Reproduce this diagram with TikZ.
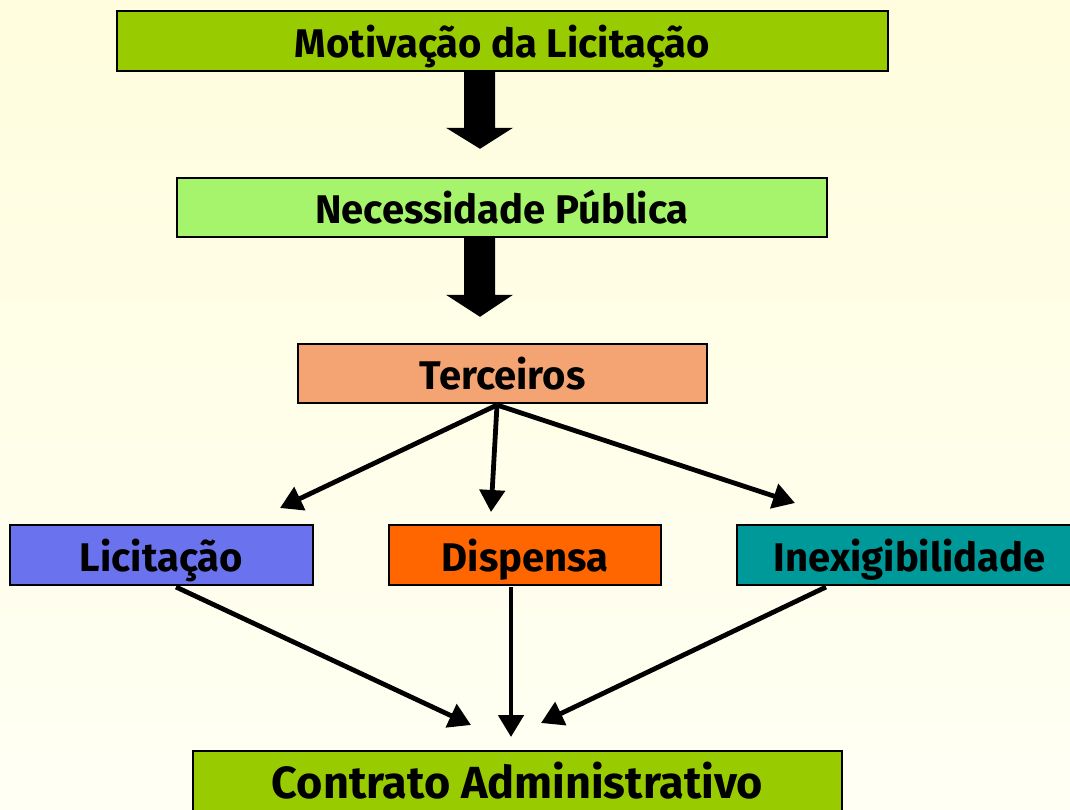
\documentclass[tikz,border=0pt]{standalone}
\usepackage{fontspec}
\setmainfont{Fira Sans}
\usetikzlibrary{arrows.meta,calc}
\definecolor{bgtop}{HTML}{FFFDDD}
\definecolor{bgbot}{HTML}{FFFFF4}
\definecolor{cgreen}{HTML}{99CC00}
\definecolor{clgreen}{HTML}{A6F36C}
\definecolor{csalmon}{HTML}{F4A373}
\definecolor{cblue}{HTML}{6B72EE}
\definecolor{corange}{HTML}{FF6600}
\definecolor{cteal}{HTML}{009999}
\begin{document}
\begin{tikzpicture}[x=1pt,y=-1pt,
  box/.style={draw=black, line width=1.6pt, minimum height=60pt, inner sep=0pt,
     text height=32pt, text depth=0pt,
     font=\fontsize{40}{44}\selectfont\bfseries, text=black},
  thin/.style={line width=4.8pt, -{Triangle[length=22pt,width=25pt]}},
  blockarrow/.style={fill=black}]
\useasboundingbox (0,0) rectangle (1070,809);
\clip (0,0) rectangle (1070,809);
\shade[top color=bgtop, bottom color=bgbot] (0,0) rectangle (1070,809);

\node[box, fill=cgreen, minimum width=771pt] (mot) at (502.5,41) {Motivação da Licitação};
\node[box, fill=clgreen, minimum width=650pt, minimum height=59pt] (nec) at (502,207.5) {Necessidade Pública};
\node[box, fill=csalmon, minimum width=409pt, minimum height=59pt] (ter) at (502.5,373.5) {Terceiros};
\node[box, fill=cblue, minimum width=303pt] (lic) at (161.5,555) {Licitação};
\node[box, fill=corange, minimum width=272pt] (dis) at (525,555) {Dispensa};
\node[box, fill=cteal, minimum width=345pt] (ine) at (909.5,555) {Inexigibilidade};
\node[box, fill=cgreen, minimum width=649pt, minimum height=80pt, text height=14pt,
  font=\fontsize{45}{48}\selectfont\bfseries] (con) at (517.5,791) {Contrato Administrativo};

% block arrows
\fill[blockarrow] ($(mot.south)+(-38.5,0)$) -- ($(mot.south)+(-7.5,0)$) -- ($(mot.south)+(-7.5,56)$)
  -- ($(mot.south)+(10.5,56)$) -- ($(mot.south)+(-22.5,77)$) -- ($(mot.south)+(-56.5,56)$)
  -- ($(mot.south)+(-38.5,56)$) -- cycle;
\fill[blockarrow] ($(nec.south)+(-38,0)$) -- ($(nec.south)+(-7,0)$) -- ($(nec.south)+(-7,57)$)
  -- ($(nec.south)+(11,57)$) -- ($(nec.south)+(-22,79)$) -- ($(nec.south)+(-56,57)$)
  -- ($(nec.south)+(-38,57)$) -- cycle;

% thin arrows from Terceiros
\coordinate (tstart) at (497,405);
\coordinate (e1) at (280,508);
\coordinate (e2) at (491,512);
\coordinate (e3) at (795,503);
\draw[thin] (tstart) -- (e1);
\draw[thin] (tstart) -- (e2);
\draw[thin] (tstart) -- (e3);

% arrows to Contrato
\coordinate (l1) at (176,587);
\coordinate (d1) at (511,587);
\coordinate (i1) at (826,587);
\coordinate (c1) at (471,725);
\coordinate (c2) at (511,737);
\coordinate (c3) at (541,723);
\draw[thin] (l1) -- (c1);
\draw[thin] (d1) -- (c2);
\draw[thin] (i1) -- (c3);
\end{tikzpicture}
\end{document}
